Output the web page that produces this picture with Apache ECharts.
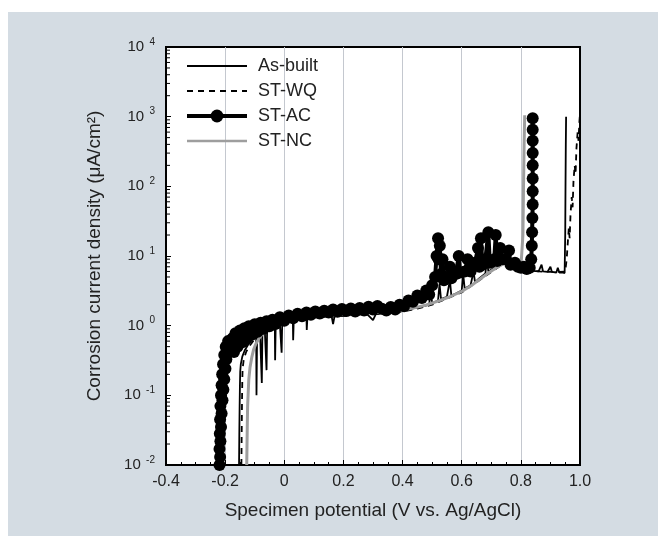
<!DOCTYPE html>
<html><head><meta charset="utf-8">
<script src="https://cdn.jsdelivr.net/npm/echarts@6/dist/echarts.min.js"></script>
<style>html,body{margin:0;padding:0;background:#fff}#c{width:658px;height:536px}</style>
</head><body><div id="c"></div>
<script>
// ---- data (potential V vs Ag/AgCl, current density uA/cm2) ----
const xTicks = [-0.4, -0.2, 0, 0.2, 0.4, 0.6, 0.8, 1.0];
const yDecades = [0.01, 0.1, 1, 10, 100, 1000, 10000];
const seriesNames = ['As-built', 'ST-WQ', 'ST-AC', 'ST-NC'];

const asBuilt = [[-0.153,0.01],[-0.152,0.03],[-0.151,0.07],[-0.15,0.14],[-0.149,0.22],[-0.147,0.28],[-0.142,0.36],[-0.134,0.44],[-0.124,0.52],[-0.114,0.6],[-0.104,0.67],[-0.095,0.72],[-0.094,0.1],[-0.092,0.74],[-0.082,0.8],[-0.077,0.82],[-0.076,0.15],[-0.074,0.84],[-0.066,0.88],[-0.061,0.9],[-0.06,0.23],[-0.058,0.92],[-0.045,0.97],[-0.032,1.02],[-0.031,0.32],[-0.029,1.03],[-0.015,1.07],[-0.01,1.1],[-0.009,0.41],[-0.007,1.1],[0.01,1.15],[0.029,1.19],[0.03,0.62],[0.032,1.2],[0.055,1.24],[0.075,1.28],[0.076,0.87],[0.078,1.28],[0.1,1.31],[0.13,1.34],[0.16,1.37],[0.165,1.05],[0.17,1.37],[0.2,1.4],[0.24,1.43],[0.28,1.46],[0.3,1.2],[0.31,1.48],[0.35,1.53],[0.38,1.58],[0.4,1.65],[0.42,1.7],[0.425,2.5],[0.43,1.75],[0.46,1.85],[0.49,2.0],[0.495,3.2],[0.5,2.1],[0.52,2.3],[0.525,4],[0.53,2.4],[0.55,2.6],[0.56,4.5],[0.565,2.7],[0.58,2.9],[0.6,3.2],[0.605,5.5],[0.61,3.4],[0.63,3.8],[0.64,6],[0.645,4.2],[0.66,4.8],[0.68,5.6],[0.685,9],[0.69,6],[0.71,6.8],[0.72,10],[0.725,7.2],[0.74,7.9],[0.75,8.2],[0.76,8],[0.77,7.7],[0.78,7.3],[0.79,7],[0.8,6.7],[0.81,6.5],[0.82,6.3],[0.84,6.1],[0.86,6],[0.87,7.5],[0.875,6],[0.89,5.9],[0.9,7],[0.905,5.9],[0.92,5.8],[0.925,6.8],[0.93,5.8],[0.94,5.8],[0.948,5.7],[0.95,20],[0.951,100],[0.952,400],[0.953,1000]];

const stWQ = [[-0.145,0.01],[-0.144,0.03],[-0.143,0.08],[-0.142,0.16],[-0.141,0.24],[-0.137,0.33],[-0.129,0.42],[-0.118,0.51],[-0.103,0.62],[-0.087,0.72],[-0.07,0.82],[-0.05,0.92],[-0.03,1.0],[-0.01,1.07],[0.02,1.15],[0.06,1.23],[0.1,1.29],[0.15,1.34],[0.2,1.38],[0.25,1.42],[0.3,1.46],[0.35,1.51],[0.4,1.6],[0.45,1.75],[0.5,2.0],[0.55,2.45],[0.6,3.0],[0.65,4.2],[0.7,5.9],[0.73,7.2],[0.75,7.8],[0.77,7.4],[0.8,6.7],[0.83,6.2],[0.86,6.0],[0.9,5.9],[0.93,5.9],[0.95,6],[0.955,9],[0.958,14],[0.962,25],[0.965,18],[0.968,40],[0.972,70],[0.975,50],[0.978,120],[0.982,200],[0.985,150],[0.988,350],[0.992,600],[0.995,450],[0.998,850],[1.0,1100]];

const stAC = [[-0.219,0.01],[-0.217,0.013],[-0.219,0.017],[-0.216,0.022],[-0.218,0.028],[-0.214,0.035],[-0.217,0.045],[-0.212,0.055],[-0.216,0.07],[-0.209,0.085],[-0.214,0.1],[-0.206,0.12],[-0.212,0.14],[-0.203,0.17],[-0.21,0.2],[-0.199,0.24],[-0.207,0.28],[-0.196,0.33],[-0.203,0.38],[-0.19,0.44],[-0.198,0.5],[-0.184,0.55],[-0.19,0.6],[-0.175,0.66],[-0.17,0.42],[-0.165,0.78],[-0.158,0.5],[-0.15,0.85],[-0.142,0.58],[-0.135,0.92],[-0.127,0.66],[-0.12,0.98],[-0.11,0.74],[-0.1,1.05],[-0.09,0.82],[-0.08,1.1],[-0.07,0.9],[-0.06,1.16],[-0.05,0.98],[-0.04,1.22],[-0.03,1.06],[-0.015,1.32],[0,1.18],[0.015,1.4],[0.03,1.28],[0.045,1.48],[0.06,1.36],[0.075,1.55],[0.09,1.43],[0.105,1.6],[0.12,1.5],[0.135,1.64],[0.15,1.54],[0.165,1.7],[0.18,1.58],[0.195,1.74],[0.21,1.62],[0.225,1.77],[0.24,1.6],[0.255,1.8],[0.27,1.65],[0.285,1.87],[0.3,1.7],[0.315,1.92],[0.33,1.75],[0.345,1.65],[0.36,1.85],[0.375,1.7],[0.39,2.0],[0.405,1.9],[0.42,2.3],[0.435,2.2],[0.45,2.7],[0.465,2.5],[0.48,3.2],[0.49,2.8],[0.5,3.8],[0.51,5],[0.515,10],[0.52,18],[0.522,9],[0.526,14],[0.53,5.5],[0.535,9],[0.54,4.5],[0.55,5],[0.56,7],[0.565,4.8],[0.58,5.5],[0.59,10],[0.595,5.8],[0.61,6],[0.62,9],[0.63,6],[0.645,8],[0.655,13],[0.66,7],[0.665,18],[0.67,7.5],[0.68,9],[0.69,22],[0.695,8],[0.71,9],[0.715,20],[0.72,8.5],[0.73,13],[0.74,9],[0.76,12],[0.765,7.5],[0.78,8],[0.79,7],[0.8,6.8],[0.81,7],[0.82,6.5],[0.83,6.8],[0.835,9],[0.837,14],[0.838,22],[0.839,35],[0.84,55],[0.84,85],[0.84,130],[0.84,200],[0.84,300],[0.84,450],[0.84,650],[0.84,950]];

const stNC = [[-0.127,0.01],[-0.126,0.02],[-0.125,0.04],[-0.124,0.07],[-0.122,0.11],[-0.12,0.17],[-0.116,0.25],[-0.11,0.35],[-0.104,0.45],[-0.096,0.55],[-0.086,0.65],[-0.075,0.75],[-0.062,0.85],[-0.047,0.95],[-0.03,1.04],[-0.01,1.12],[0.01,1.2],[0.04,1.27],[0.08,1.33],[0.12,1.38],[0.16,1.42],[0.2,1.45],[0.24,1.48],[0.28,1.52],[0.32,1.56],[0.36,1.6],[0.4,1.67],[0.44,1.8],[0.48,1.98],[0.52,2.25],[0.56,2.6],[0.6,3.1],[0.63,3.7],[0.66,4.6],[0.69,5.7],[0.72,6.9],[0.74,7.7],[0.755,8],[0.77,7.6],[0.785,7.1],[0.8,6.8],[0.805,7],[0.807,20],[0.809,100],[0.811,400],[0.813,1050]];

// log minor tick positions (2..9 per decade)
const yMinor = [];
for (let d = 0; d < yDecades.length - 1; d++) for (let k = 2; k <= 9; k++) yMinor.push([xTicks[0], yDecades[d] * k]);

const FONT = 'Liberation Sans, Arial, sans-serif';
const TXT = '#222';
const noSym = {color: 'rgba(0,0,0,0)', borderWidth: 0};
const chart = echarts.init(document.getElementById('c'), null, {renderer: 'canvas'});
chart.setOption({
  animation: false,
  backgroundColor: '#fff',
  graphic: [{type: 'rect', z: -10, shape: {x: 8, y: 12, width: 650, height: 524}, style: {fill: '#d4dce3'}}],
  grid: {left: 166, right: 78, top: 47, bottom: 71, show: true, backgroundColor: '#fff', borderColor: '#000', borderWidth: 2},
  legend: {
    data: [
      {name: seriesNames[0], itemStyle: noSym, lineStyle: {width: 1.8}},
      {name: seriesNames[1], itemStyle: noSym, lineStyle: {width: 1.8}},
      {name: seriesNames[2], lineStyle: {width: 4}},
      {name: seriesNames[3], itemStyle: noSym, lineStyle: {width: 2.5}}
    ],
    orient: 'vertical', left: 185, top: 56, padding: 0,
    itemWidth: 60, itemHeight: 16, itemGap: 5,
    textStyle: {fontFamily: FONT, fontSize: 18, color: TXT, lineHeight: 20, padding: [0, 0, 0, 6]}
  },
  xAxis: {
    type: 'value', min: xTicks[0], max: xTicks[xTicks.length - 1], interval: 0.2,
    name: 'Specimen potential (V vs. Ag/AgCl)', nameLocation: 'middle', nameGap: 36,
    nameTextStyle: {fontFamily: FONT, fontSize: 19, color: TXT},
    axisLine: {onZero: false, lineStyle: {color: '#000', width: 2}},
    axisTick: {inside: true, length: 5, lineStyle: {color: '#000'}},
    minorTick: {show: true, splitNumber: 4, length: 3, lineStyle: {color: '#000'}},
    splitLine: {show: true, showMinLine: false, showMaxLine: false, lineStyle: {color: '#c4c8cf', width: 1}},
    axisLabel: {margin: 9, fontFamily: FONT, fontSize: 16, color: TXT,
      formatter: v => Math.abs(v) < 1e-9 ? '0' : (Math.abs(v - 1) < 1e-9 ? '1.0' : v.toFixed(1))}
  },
  yAxis: {
    type: 'log', logBase: 10, min: yDecades[0], max: yDecades[yDecades.length - 1],
    name: 'Corrosion current density (μA/cm²)', nameLocation: 'middle', nameGap: 62,
    nameTextStyle: {fontFamily: FONT, fontSize: 19, color: TXT},
    axisLine: {onZero: false, lineStyle: {color: '#000', width: 2}},
    axisTick: {inside: true, length: 5, lineStyle: {color: '#000'}},
    splitLine: {show: false},
    axisLabel: {margin: 11, color: TXT,
      formatter: v => '{b|10} {s|' + Math.round(Math.log10(v)) + '}',
      rich: {b: {fontFamily: FONT, fontSize: 15, color: TXT, lineHeight: 20},
             s: {fontFamily: FONT, fontSize: 10, color: TXT, verticalAlign: 'top', lineHeight: 12, padding: [0, 0, 0, 2]}}}
  },
  series: [
    {name: 'As-built', type: 'line', data: asBuilt, symbol: 'none', lineStyle: {color: '#000', width: 1.8}, itemStyle: {color: '#000'}},
    {name: 'ST-WQ', type: 'line', data: stWQ, symbol: 'none', lineStyle: {color: '#000', width: 1.8, type: [6, 5]}, itemStyle: {color: '#000'}},
    {name: 'ST-AC', type: 'line', data: stAC, symbol: 'circle', symbolSize: 12, showSymbol: true, lineStyle: {color: '#000', width: 4}, itemStyle: {color: '#000'}},
    {name: 'ST-NC', type: 'line', data: stNC, symbol: 'none', lineStyle: {color: '#9e9e9e', width: 3}, itemStyle: {color: '#9e9e9e'}},
    {name: 'minor', type: 'custom', data: yMinor, silent: true, clip: false,
      renderItem: (params, api) => {
        const p = api.coord([api.value(0), api.value(1)]);
        return {type: 'line', shape: {x1: p[0], y1: p[1], x2: p[0] + 4, y2: p[1]}, style: {stroke: '#000', lineWidth: 1}};
      }}
  ]
});
</script></body></html>
